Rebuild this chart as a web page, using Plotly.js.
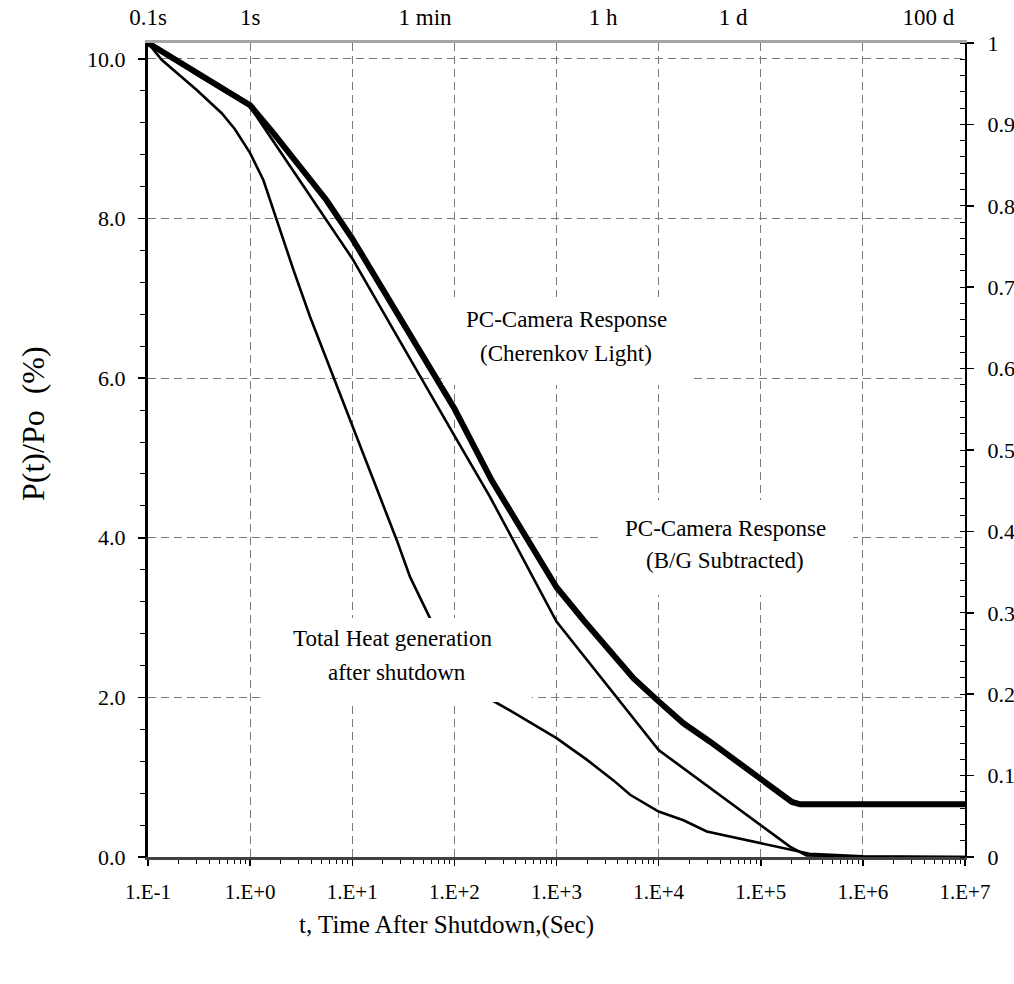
<!DOCTYPE html>
<html>
<head>
<meta charset="utf-8">
<script src="https://cdn.plot.ly/plotly-3.0.1.min.js"></script>
<style>html,body{margin:0;padding:0;background:#fff;}</style>
</head>
<body>
<div id="chart" style="width:1014px;height:984px;"></div>
<script>
// ---- data ----
// Thick curve: PC-Camera Response (Cherenkov Light)
const tCherenkov = [0.1, 0.32, 1, 1.69, 5.6, 10, 100, 232, 865, 1000, 1832, 5662, 10000, 17500, 31900, 100000, 202000, 243000, 10000000];
const vCherenkov = [10.2, 9.80, 9.42, 9.07, 8.23, 7.75, 5.62, 4.72, 3.53, 3.38, 2.97, 2.24, 1.95, 1.675, 1.445, 0.965, 0.69, 0.66, 0.66];

// Thin curve: PC-Camera Response (B/G Subtracted)
const tSubtracted = [0.1, 0.32, 1, 10, 100, 224, 1000, 10000, 193000, 280000, 1000000, 10000000];
const vSubtracted = [10.2, 9.78, 9.40, 7.50, 5.28, 4.51, 2.95, 1.34, 0.13, 0.02, 0.0, 0.0];

// Thin curve: Total Heat generation after shutdown
const tHeat = [0.1, 0.136, 0.30, 0.527, 0.71, 1, 1.35, 1.82, 2.65, 3.86, 6.06, 18.7, 27.3, 36.8, 57.8, 215, 326, 1000, 1977, 3615, 5260, 10000, 17500, 29600, 100000, 193000, 300000, 1000000, 10000000];
const vHeat = [10.2, 9.99, 9.61, 9.32, 9.12, 8.82, 8.48, 7.98, 7.36, 6.77, 6.12, 4.49, 3.97, 3.51, 2.99, 1.99, 1.86, 1.49, 1.22, 0.96, 0.78, 0.57, 0.46, 0.32, 0.17, 0.09, 0.04, 0.01, 0.0];

// Axis ticks
const xTickVals = [0.1, 1, 10, 100, 1000, 10000, 100000, 1000000, 10000000];
const xTickText = ['1.E-1', '1.E+0', '1.E+1', '1.E+2', '1.E+3', '1.E+4', '1.E+5', '1.E+6', '1.E+7'];
const topTickPos = [0.1, 1, 51.6, 2860, 53700, 4370000];
const topTickText = ['0.1s', '1s', '1 min', '1 h', '1 d', '100 d'];
const yTickVals = [0, 2, 4, 6, 8, 10];
const yTickText = ['0.0', '2.0', '4.0', '6.0', '8.0', '10.0'];

// minor tick positions on the log axis (2..9 within each decade)
const xMinor = [];
for (let e = -1; e < 7; e++) { for (let m = 2; m <= 9; m++) { xMinor.push(m * Math.pow(10, e)); } }

const FONT = '"Liberation Serif", "Times New Roman", Times, serif';
const GRID = '#7a7a7a';
const DASH = '8px,5px';

const traces = [
  {x: tHeat, y: vHeat, mode: 'lines', line: {color: '#000', width: 2.6}, name: 'Total Heat generation after shutdown', hoverinfo: 'skip'},
  {x: tSubtracted, y: vSubtracted, mode: 'lines', line: {color: '#000', width: 2.6}, name: 'PC-Camera Response (B/G Subtracted)', hoverinfo: 'skip'},
  {x: tCherenkov, y: vCherenkov, mode: 'lines', line: {color: '#000', width: 6}, name: 'PC-Camera Response (Cherenkov Light)', hoverinfo: 'skip'},
  {x: [], y: [], xaxis: 'x2', yaxis: 'y2', mode: 'lines', showlegend: false, hoverinfo: 'skip'}
];

function px(x) { return (x - 148) / 817; }
function py(y) { return (857 - y) / 814; }

const annText = [
  ['PC-Camera Response', 566, 320],
  ['(Cherenkov Light)', 566, 353],
  ['PC-Camera Response', 725, 528],
  ['(B/G Subtracted)', 725, 560],
  ['Total Heat generation', 392, 638],
  ['after shutdown', 397, 672]
];
const annotations = annText.map(a => ({
  text: a[0], xref: 'paper', yref: 'paper', x: px(a[1]), y: py(a[2]),
  xanchor: 'center', yanchor: 'middle', showarrow: false,
  font: {family: FONT, size: 23, color: '#000'}
}));
annotations.push({
  text: 'P(t)/Po&nbsp;&nbsp;(%)', xref: 'paper', yref: 'paper', x: px(33), y: py(424),
  xanchor: 'center', yanchor: 'middle', textangle: -90, showarrow: false,
  font: {family: FONT, size: 32, color: '#000'}
});
annotations.push({
  text: 't, Time After Shutdown,(Sec)', xref: 'paper', yref: 'paper', x: px(446), y: py(925),
  xanchor: 'center', yanchor: 'middle', showarrow: false,
  font: {family: FONT, size: 25, color: '#000'}
});

const masks = [[443, 690, 297, 385], [600, 853, 500, 595], [263, 532, 618, 702]];
const shapes = masks.map(m => ({
  type: 'rect', xref: 'paper', yref: 'paper', layer: 'above',
  x0: px(m[0]), x1: px(m[1]), y0: py(m[3]), y1: py(m[2]),
  fillcolor: '#ffffff', line: {width: 0}
}));

const layout = {
  width: 1014, height: 984,
  margin: {l: 148, r: 49, t: 43, b: 127, pad: 0},
  paper_bgcolor: '#fff', plot_bgcolor: '#fff',
  showlegend: false,
  font: {family: FONT, color: '#000'},
  xaxis: {
    type: 'log', range: [-1, 7], tickmode: 'array', tickvals: xTickVals, ticktext: xTickText,
    ticks: 'outside', ticklen: 6, tickwidth: 1.5, tickcolor: '#000',
    showline: true, linecolor: '#404040', linewidth: 3,
    showgrid: true, gridcolor: GRID, gridwidth: 1, griddash: DASH, zeroline: false,
    tickfont: {family: FONT, size: 21, color: '#000'}, ticklabelstandoff: 8,
    minor: {tickvals: xMinor, ticks: 'outside', ticklen: 4, tickwidth: 1, tickcolor: '#000', showgrid: false}
  },
  xaxis2: {
    type: 'log', range: [-1, 7], overlaying: 'x', side: 'top', anchor: 'y2',
    tickmode: 'array', tickvals: topTickPos, ticktext: topTickText, ticks: '',
    showline: true, linecolor: '#a6a6a6', linewidth: 3, showgrid: false, zeroline: false,
    tickfont: {family: FONT, size: 23, color: '#000'}, ticklabelstandoff: 6
  },
  yaxis: {
    range: [0, 10.2], tickmode: 'array', tickvals: yTickVals, ticktext: yTickText,
    ticks: 'outside', ticklen: 7, tickwidth: 1.5, tickcolor: '#000',
    showline: true, linecolor: '#000', linewidth: 3,
    showgrid: true, gridcolor: GRID, gridwidth: 1, griddash: DASH, zeroline: false,
    tickfont: {family: FONT, size: 22, color: '#000'}, ticklabelstandoff: 8,
    minor: {dtick: 0.4, tick0: 0, ticks: 'outside', ticklen: 5, tickwidth: 1, tickcolor: '#000', showgrid: false}
  },
  yaxis2: {
    range: [0, 1], overlaying: 'y', side: 'right', anchor: 'x2',
    tickmode: 'linear', tick0: 0, dtick: 0.1,
    ticks: 'outside', ticklen: 7, tickwidth: 1.5, tickcolor: '#000',
    showline: true, linecolor: '#000', linewidth: 2, showgrid: false, zeroline: false,
    tickfont: {family: FONT, size: 22, color: '#000'}, ticklabelstandoff: 9,
    minor: {dtick: 0.02, tick0: 0, ticks: 'inside', ticklen: 5, tickwidth: 1, tickcolor: '#000', showgrid: false}
  },
  annotations: annotations,
  shapes: shapes
};

Plotly.newPlot('chart', traces, layout, {displayModeBar: false, staticPlot: true});
</script>
</body>
</html>
